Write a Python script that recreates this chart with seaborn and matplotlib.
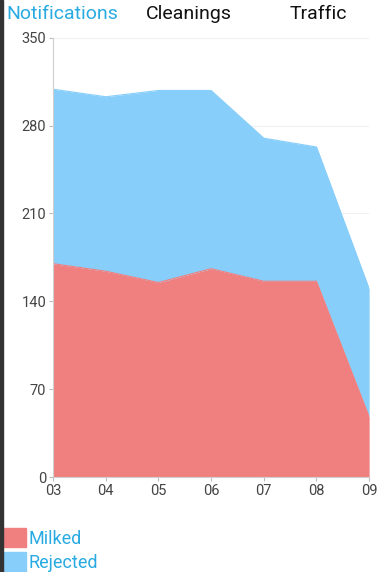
"""
Stacked area chart: milked vs rejected per day.
"""
import matplotlib
matplotlib.use("Agg")
import matplotlib.pyplot as plt
import seaborn as sns
import pandas as pd
from matplotlib.patches import Rectangle

days = ["03", "04", "05", "06", "07", "08", "09"]
milked = [170, 164, 155, 166, 156, 156, 48]
rejected = [139, 139, 153, 142, 114, 107, 102]
series_names = ["Milked", "Rejected"]
series_colors = ["#F08080", "#87CEFA"]
y_ticks = [0, 70, 140, 210, 280, 350]
tabs = ["Notifications", "Cleanings", "Traffic"]


def main():
    df = pd.DataFrame({"day": days, "Milked": milked, "Rejected": rejected})
    df["pos"] = range(len(df))
    df["total"] = df["Milked"] + df["Rejected"]

    sns.set_theme(style="white")
    plt.rcParams["font.family"] = ["Roboto", "DejaVu Sans"]

    fig = plt.figure(figsize=(3.79, 5.72), dpi=100)
    ax = fig.add_axes([0.14, 0.166, 0.834, 0.768])

    # stacked areas
    ax.stackplot(df["pos"], df["Milked"], df["Rejected"],
                 colors=series_colors, linewidth=0)
    sns.lineplot(data=df, x="pos", y="Milked", ax=ax, color=series_colors[0], lw=0.8)
    sns.lineplot(data=df, x="pos", y="total", ax=ax, color=series_colors[1], lw=0.8)

    ax.set_xlim(0, len(days) - 1)
    ax.set_ylim(0, 350)
    ax.set_xticks(df["pos"])
    ax.set_xticklabels(days)
    ax.set_yticks(y_ticks)
    ax.set_xlabel("")
    ax.set_ylabel("")
    ax.grid(axis="y", color="#f0f0f0", lw=0.8)
    ax.set_axisbelow(True)
    for side in ["top", "right"]:
        ax.spines[side].set_visible(False)
    for side in ["left", "bottom"]:
        ax.spines[side].set_color("#cfcfcf")
        ax.spines[side].set_linewidth(0.8)
    ax.tick_params(axis="both", length=3, width=0.8, color="#bbbbbb",
                   labelsize=10.5, labelcolor="#444444", pad=2, bottom=True, left=True)

    # tab header
    fig.text(0.018, 0.992, tabs[0], fontsize=14, color="#29ABE2", va="top")
    fig.text(0.385, 0.992, tabs[1], fontsize=14, color="#111111", va="top")
    fig.text(0.765, 0.992, tabs[2], fontsize=14, color="#111111", va="top")

    # legend
    handles = [Rectangle((0, 0), 1, 1, color=c) for c in series_colors]
    leg = fig.legend(handles, series_names, loc="upper left",
                     bbox_to_anchor=(0.0, 0.083), frameon=False,
                     handlelength=1.25, handleheight=1.25, handletextpad=0.15,
                     labelspacing=0.25, fontsize=13, borderaxespad=0,
                     borderpad=0.2)
    for t in leg.get_texts():
        t.set_color("#29ABE2")

    # left dark edge
    fig.patches.append(Rectangle((0, 0), 0.008, 1, transform=fig.transFigure,
                                 color="#333333", zorder=10))

    plt.savefig("out.png", dpi=100)
    print("Generated: out.png")


if __name__ == "__main__":
    main()
